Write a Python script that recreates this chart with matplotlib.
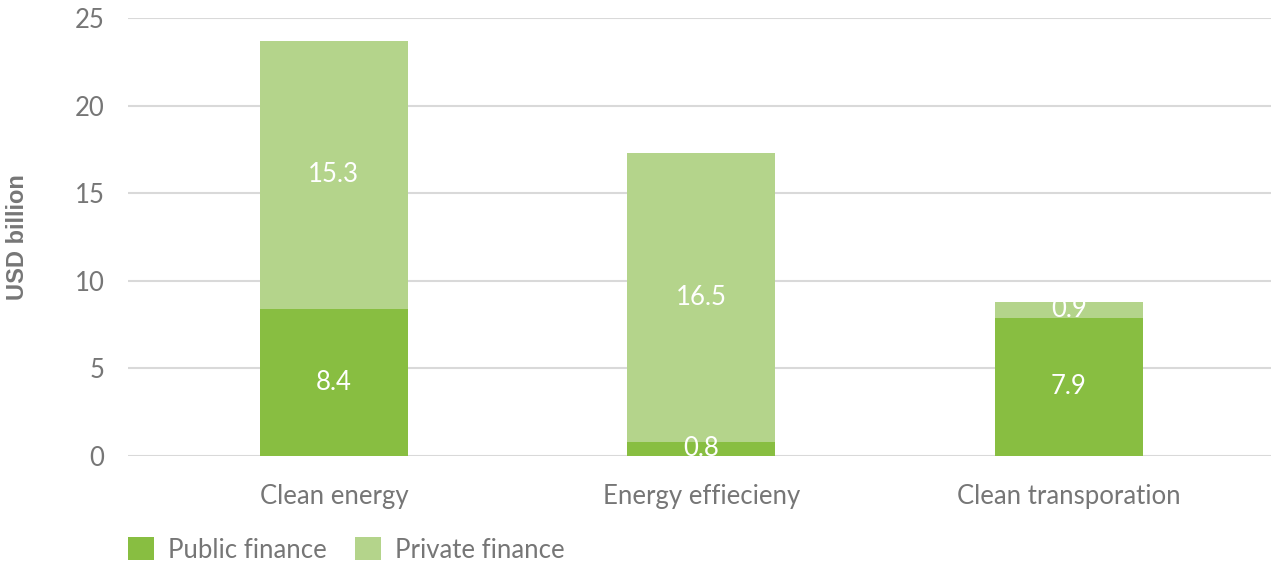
import matplotlib
matplotlib.use("Agg")
import matplotlib.pyplot as plt
import numpy as np

categories = ["Clean energy", "Energy effiecieny", "Clean transporation"]
public_finance = [8.4, 0.8, 7.9]
private_finance = [15.3, 16.5, 0.9]
yticks = [0, 5, 10, 15, 20, 25]

PUBLIC_COLOR = "#88BE41"
PRIVATE_COLOR = "#B4D48B"
TEXT_COLOR = "#767676"
GRID_COLOR = "#D9D9D9"
FS = 18.5

plt.rcParams["font.family"] = ["Lato", "DejaVu Sans"]

fig = plt.figure(figsize=(12.71, 5.65), dpi=100)
ax = fig.add_axes([128 / 1271, 109 / 565, 1 - 128 / 1271, 438 / 565])

x = np.arange(len(categories))
width = 0.402
b1 = ax.bar(x, public_finance, width, color=PUBLIC_COLOR, label="Public finance", zorder=2)
b2 = ax.bar(x, private_finance, width, bottom=public_finance, color=PRIVATE_COLOR,
            label="Private finance", zorder=2)

for xi, pub, priv in zip(x, public_finance, private_finance):
    ax.text(xi, pub / 2, f"{pub:.1f}", ha="center", va="center", color="white",
            fontsize=FS, zorder=3)
    ax.text(xi, pub + priv / 2, f"{priv:.1f}", ha="center", va="center", color="white",
            fontsize=FS, zorder=3)

ax.set_xlim(-0.56, 2.55)
ax.set_ylim(0, 25)
ax.set_yticks(yticks)
ax.set_yticklabels([str(t) for t in yticks])
ax.set_xticks(x)
ax.set_xticklabels(categories)
ax.tick_params(axis="both", length=0, labelsize=FS, labelcolor=TEXT_COLOR)
ax.tick_params(axis="y", pad=17)
ax.tick_params(axis="x", pad=20)
ax.grid(axis="y", color=GRID_COLOR, linewidth=1.5, zorder=0)
for s in ax.spines.values():
    s.set_visible(False)

fig.text(18 / 1271, 1 - 237 / 565, "USD billion", rotation=90, ha="center", va="center",
         fontsize=17, fontweight="bold", color=TEXT_COLOR,
         family=["Liberation Sans", "DejaVu Sans"])

leg = fig.legend(handles=[b1, b2], labels=["Public finance", "Private finance"],
                 loc="center left", bbox_to_anchor=(128 / 1271, 1 - 550 / 565), ncol=2,
                 frameon=False, fontsize=FS, handlelength=1.0, handleheight=1.0,
                 handletextpad=0.55, columnspacing=1.1, labelcolor=TEXT_COLOR,
                 borderaxespad=0, borderpad=0)

fig.savefig("out.png", dpi=100)
